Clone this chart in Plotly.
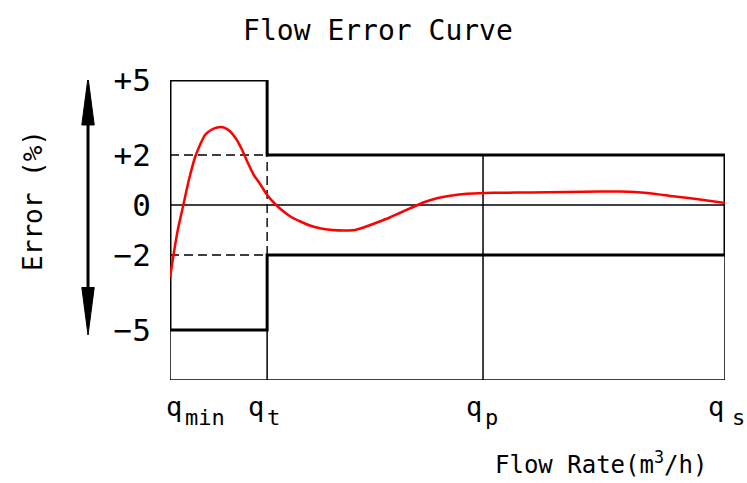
import plotly.graph_objects as go

# ---- data ----
# flow-rate positions (relative scale, q_min = 0 ... q_s = 100)
Q_MIN, Q_T, Q_P, Q_S = 0.0, 17.5, 56.4, 100.0
flow_positions = [Q_MIN, Q_T, Q_P, Q_S]
flow_symbol = "q"
flow_subscripts = ["min", "t", "p", "s"]

# error limits (%)
LOW_ZONE_LIMIT = 5.0     # q_min .. q_t
HIGH_ZONE_LIMIT = 2.0    # q_t .. q_s
Y_BOTTOM = -7.0

error_ticks = [5, 2, 0, -2, -5]
error_tick_text = ["+5", "+2", "0", "\u22122", "\u22125"]

# measured error curve
curve_x = [0.0, 0.7, 1.4, 2.3, 3.4, 4.5, 5.4, 6.3, 7.4, 8.5, 9.7, 10.8, 11.9, 13.0,
           14.1, 15.1, 16.2, 17.5, 18.9, 20.4, 22.0, 23.4, 25.2, 27.0, 29.2, 31.5,
           33.3, 35.1, 37.3, 39.6, 41.4, 43.6, 45.9, 48.1, 50.5, 53.5, 56.8, 59.5,
           64.9, 71.5, 77.5, 81.1, 86.0, 90.6, 95.5, 100.0]
curve_err = [-2.9, -1.9, -1.0, -0.1, 1.0, 1.9, 2.4, 2.8, 3.0, 3.1, 3.1, 2.95, 2.65, 2.2,
             1.65, 1.2, 0.85, 0.4, 0.05, -0.25, -0.5, -0.65, -0.82, -0.93, -1.0, -1.02,
             -1.0, -0.88, -0.7, -0.5, -0.32, -0.1, 0.12, 0.27, 0.37, 0.45, 0.48, 0.49,
             0.5, 0.52, 0.54, 0.54, 0.48, 0.35, 0.22, 0.08]

MONO = "DejaVu Sans Mono"

fig = go.Figure()
fig.add_trace(go.Scatter(x=curve_x, y=curve_err, mode="lines",
                         line=dict(color="#ff0000", width=2.5, shape="spline", smoothing=0.6),
                         hoverinfo="skip", showlegend=False))

thin = dict(color="black", width=1.5)
dash = dict(color="black", width=1.4, dash="9px,5px")
shapes = []
# thin frame / grid lines
shapes.append(dict(type="line", x0=Q_MIN, x1=Q_S, y0=0, y1=0, line=thin, layer="below"))
shapes.append(dict(type="line", x0=Q_MIN, x1=Q_S, y0=Y_BOTTOM, y1=Y_BOTTOM, line=thin, layer="below"))
shapes.append(dict(type="line", x0=Q_P, x1=Q_P, y0=Y_BOTTOM, y1=HIGH_ZONE_LIMIT, line=thin, layer="below"))
shapes.append(dict(type="line", x0=Q_MIN, x1=Q_MIN, y0=Y_BOTTOM, y1=-LOW_ZONE_LIMIT, line=thin, layer="below"))
shapes.append(dict(type="line", x0=Q_T, x1=Q_T, y0=Y_BOTTOM, y1=-LOW_ZONE_LIMIT, line=thin, layer="below"))
shapes.append(dict(type="line", x0=Q_S, x1=Q_S, y0=Y_BOTTOM, y1=-HIGH_ZONE_LIMIT, line=thin, layer="below"))
# dashed continuation of +-2 % lines and q_t divider
for yv in (HIGH_ZONE_LIMIT, -HIGH_ZONE_LIMIT):
    shapes.append(dict(type="line", x0=Q_MIN, x1=Q_T, y0=yv, y1=yv, line=dash, layer="below"))
shapes.append(dict(type="line", x0=Q_T, x1=Q_T, y0=-HIGH_ZONE_LIMIT, y1=HIGH_ZONE_LIMIT, line=dash, layer="below"))
# thick error envelope
env = (f"M {Q_MIN},{LOW_ZONE_LIMIT} L {Q_T},{LOW_ZONE_LIMIT} L {Q_T},{HIGH_ZONE_LIMIT} "
       f"L {Q_S},{HIGH_ZONE_LIMIT} L {Q_S},{-HIGH_ZONE_LIMIT} L {Q_T},{-HIGH_ZONE_LIMIT} "
       f"L {Q_T},{-LOW_ZONE_LIMIT} L {Q_MIN},{-LOW_ZONE_LIMIT} Z")
shapes.append(dict(type="path", path=env, line=dict(color="black", width=3), layer="below"))

# double-headed arrow in the left margin
ax = -0.1477
hw = 0.0112
shapes.append(dict(type="line", xref="paper", yref="y", x0=ax, x1=ax, y0=3.4, y1=-3.5,
                   line=dict(color="black", width=3)))
shapes.append(dict(type="path", xref="paper", yref="y",
                   path=f"M {ax},5.1 L {ax+hw},3.2 L {ax-hw},3.2 Z",
                   fillcolor="black", line=dict(color="black", width=1)))
shapes.append(dict(type="path", xref="paper", yref="y",
                   path=f"M {ax},-5.2 L {ax+hw},-3.3 L {ax-hw},-3.3 Z",
                   fillcolor="black", line=dict(color="black", width=1)))

annotations = []
q_shifts = [-6, -21, -19, -19]
sub_shifts = [13, -2, 0, 5]
for pos, sub, qs, ss in zip(flow_positions, flow_subscripts, q_shifts, sub_shifts):
    annotations.append(dict(x=pos, y=-0.03, xref="x", yref="paper", text=flow_symbol,
                            xanchor="left", yanchor="top", xshift=qs, showarrow=False,
                            font=dict(family=MONO, size=27, color="black")))
    annotations.append(dict(x=pos, y=-0.075, xref="x", yref="paper", text=sub,
                            xanchor="left", yanchor="top", xshift=ss, showarrow=False,
                            font=dict(family=MONO, size=22, color="black")))
annotations.append(dict(x=0.777, y=-0.275, xref="paper", yref="paper",
                        text="Flow Rate(m<sup>3</sup>/h)", showarrow=False,
                        xanchor="center", yanchor="middle",
                        font=dict(family=MONO, size=24, color="black")))
annotations.append(dict(x=-0.247, y=0.6, xref="paper", yref="paper",
                        text="Error (%)", textangle=-90, showarrow=False,
                        xanchor="center", yanchor="middle",
                        font=dict(family=MONO, size=26, color="black")))

fig.update_layout(
    width=747, height=483,
    margin=dict(l=170, r=22, t=80, b=103),
    paper_bgcolor="white", plot_bgcolor="white",
    title=dict(text="Flow Error Curve", x=0.506, xref="container", xanchor="center",
               y=0.938, yref="container", yanchor="middle",
               font=dict(family=MONO, size=28, color="black")),
    xaxis=dict(range=[Q_MIN, Q_S], showgrid=False, zeroline=False, showline=False,
               showticklabels=False, ticks=""),
    yaxis=dict(range=[Y_BOTTOM, LOW_ZONE_LIMIT], showgrid=False, zeroline=False, showline=False,
               tickmode="array", tickvals=error_ticks, ticktext=error_tick_text,
               ticks="outside", ticklen=12, tickcolor="rgba(0,0,0,0)",
               tickfont=dict(family=MONO, size=31, color="black")),
    shapes=shapes, annotations=annotations, showlegend=False,
)

fig.write_html("out.html", config={"displayModeBar": False},
               post_script="document.body.style.margin='0';document.body.style.overflow='hidden';")
